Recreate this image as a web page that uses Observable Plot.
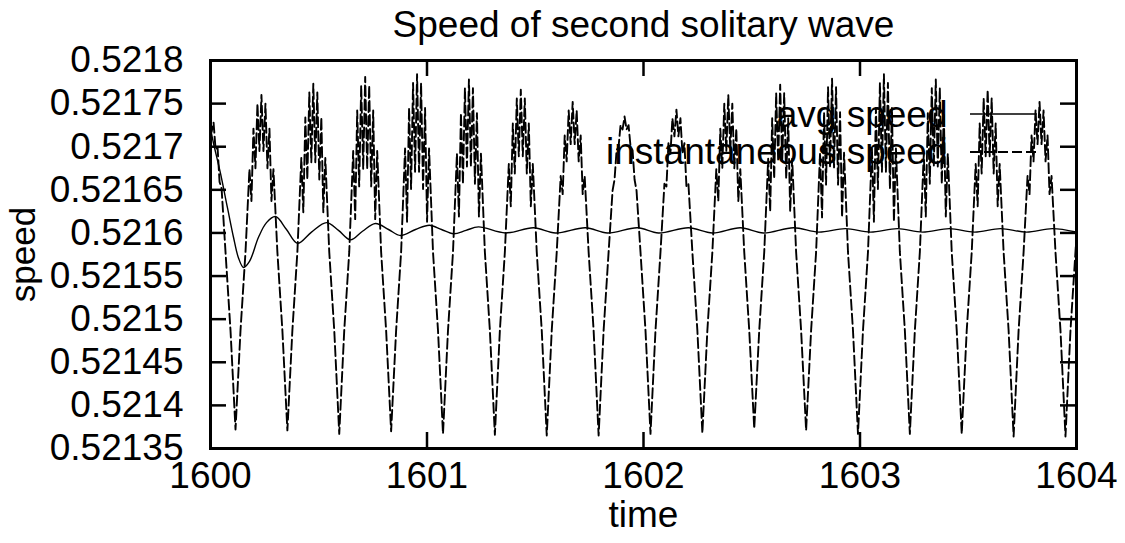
<!DOCTYPE html>
<html><head><meta charset="utf-8">
<script src="https://cdn.jsdelivr.net/npm/d3@7"></script>
<script src="https://cdn.jsdelivr.net/npm/@observablehq/plot@0.6"></script>
<style>html,body{margin:0;padding:0;background:#fff;}</style>
</head><body><div id="chart"></div>
<script>
const title = "Speed of second solitary wave";
const xLabel = "time";
const yLabel = "speed";
const seriesNames = ["avg speed", "instantaneous speed"];
const xTicks = [1600, 1601, 1602, 1603, 1604];
const xTickLabels = ["1600", "1601", "1602", "1603", "1604"];
const yTicks = [0.5218, 0.52175, 0.5217, 0.52165, 0.5216, 0.52155, 0.5215, 0.52145, 0.5214, 0.52135];
const yTickLabels = ["0.5218", "0.52175", "0.5217", "0.52165", "0.5216", "0.52155", "0.5215", "0.52145", "0.5214", "0.52135"];

const avgTime = [1600.0000, 1600.0139, 1600.0462, 1600.0785, 1600.1062, 1600.1293, 1600.1524, 1600.1801, 1600.2217, 1600.2587,
  1600.3002, 1600.3510, 1600.4018, 1600.4665, 1600.5358, 1600.5912, 1600.6467, 1600.7021, 1600.7621, 1600.8222,
  1600.8776, 1600.9469, 1601.0115, 1601.0670, 1601.1224, 1601.1801, 1601.2379, 1601.3626, 1601.4919, 1601.5935,
  1601.7321, 1601.8337, 1601.9723, 1602.0693, 1602.2079, 1602.3187, 1602.4480, 1602.5543, 1602.6928, 1602.8083,
  1602.9330, 1603.0485, 1603.1732, 1603.2887, 1603.4134, 1603.5289, 1603.6490, 1603.7691, 1603.8891, 1604.0000];
const avgSpeed = [0.521721, 0.521704, 0.521669, 0.521629, 0.521595, 0.521571, 0.521560, 0.521567, 0.521595, 0.521612,
  0.521619, 0.521604, 0.521588, 0.521601, 0.521612, 0.521603, 0.521592, 0.521602, 0.521611, 0.521604,
  0.521597, 0.521604, 0.521609, 0.521604, 0.521599, 0.521603, 0.521607, 0.521600, 0.521606, 0.521600,
  0.521606, 0.521600, 0.521606, 0.521600, 0.521606, 0.521600, 0.521606, 0.521600, 0.521606, 0.521601,
  0.521605, 0.521601, 0.521605, 0.521601, 0.521605, 0.521601, 0.521605, 0.521601, 0.521605, 0.521601];

const instTime = [
  1599.9957, 1600.0049, 1600.0142, 1600.0234, 1600.0327, 1600.0419, 1600.0511, 1600.0693, 1600.0924,
  1600.1155, 1600.1386, 1600.1617, 1600.1799, 1600.1891, 1600.1984, 1600.2076, 1600.2168, 1600.2261, 1600.2353, 1600.2445, 1600.2538, 1600.2630, 1600.2723, 1600.2815, 1600.2907, 1600.3089, 1600.3320,
  1600.3551, 1600.3782, 1600.4013, 1600.4195, 1600.4287, 1600.4380, 1600.4472, 1600.4564, 1600.4657, 1600.4749, 1600.4841, 1600.4934, 1600.5026, 1600.5119, 1600.5211, 1600.5303, 1600.5485, 1600.5716,
  1600.5947, 1600.6178, 1600.6409, 1600.6591, 1600.6683, 1600.6776, 1600.6868, 1600.6960, 1600.7053, 1600.7145, 1600.7237, 1600.7330, 1600.7422, 1600.7515, 1600.7607, 1600.7699, 1600.7881, 1600.8112,
  1600.8343, 1600.8574, 1600.8805, 1600.8987, 1600.9079, 1600.9172, 1600.9264, 1600.9356, 1600.9449, 1600.9541, 1600.9633, 1600.9726, 1600.9818, 1600.9911, 1601.0003, 1601.0095, 1601.0277, 1601.0508,
  1601.0739, 1601.0970, 1601.1201, 1601.1383, 1601.1475, 1601.1568, 1601.1660, 1601.1752, 1601.1845, 1601.1937, 1601.2029, 1601.2122, 1601.2214, 1601.2307, 1601.2399, 1601.2491, 1601.2673, 1601.2904,
  1601.3135, 1601.3366, 1601.3597, 1601.3779, 1601.3871, 1601.3964, 1601.4056, 1601.4148, 1601.4241, 1601.4333, 1601.4425, 1601.4518, 1601.4610, 1601.4703, 1601.4795, 1601.4887, 1601.5069, 1601.5300,
  1601.5531, 1601.5762, 1601.5993, 1601.6175, 1601.6267, 1601.6360, 1601.6452, 1601.6544, 1601.6637, 1601.6729, 1601.6821, 1601.6914, 1601.7006, 1601.7099, 1601.7191, 1601.7283, 1601.7465, 1601.7696,
  1601.7927, 1601.8158, 1601.8389, 1601.8571, 1601.8663, 1601.8756, 1601.8848, 1601.8940, 1601.9033, 1601.9125, 1601.9217, 1601.9310, 1601.9402, 1601.9495, 1601.9587, 1601.9679, 1601.9861, 1602.0092,
  1602.0323, 1602.0554, 1602.0785, 1602.0967, 1602.1059, 1602.1152, 1602.1244, 1602.1336, 1602.1429, 1602.1521, 1602.1613, 1602.1706, 1602.1798, 1602.1891, 1602.1983, 1602.2075, 1602.2257, 1602.2488,
  1602.2719, 1602.2950, 1602.3181, 1602.3363, 1602.3455, 1602.3548, 1602.3640, 1602.3732, 1602.3825, 1602.3917, 1602.4009, 1602.4102, 1602.4194, 1602.4287, 1602.4379, 1602.4471, 1602.4653, 1602.4884,
  1602.5115, 1602.5346, 1602.5577, 1602.5759, 1602.5851, 1602.5944, 1602.6036, 1602.6128, 1602.6221, 1602.6313, 1602.6405, 1602.6498, 1602.6590, 1602.6683, 1602.6775, 1602.6867, 1602.7049, 1602.7280,
  1602.7511, 1602.7742, 1602.7973, 1602.8155, 1602.8247, 1602.8340, 1602.8432, 1602.8524, 1602.8617, 1602.8709, 1602.8801, 1602.8894, 1602.8986, 1602.9079, 1602.9171, 1602.9263, 1602.9445, 1602.9676,
  1602.9907, 1603.0138, 1603.0369, 1603.0551, 1603.0643, 1603.0736, 1603.0828, 1603.0920, 1603.1013, 1603.1105, 1603.1197, 1603.1290, 1603.1382, 1603.1475, 1603.1567, 1603.1659, 1603.1841, 1603.2072,
  1603.2303, 1603.2534, 1603.2765, 1603.2947, 1603.3039, 1603.3132, 1603.3224, 1603.3316, 1603.3409, 1603.3501, 1603.3593, 1603.3686, 1603.3778, 1603.3871, 1603.3963, 1603.4055, 1603.4237, 1603.4468,
  1603.4699, 1603.4930, 1603.5161, 1603.5343, 1603.5435, 1603.5528, 1603.5620, 1603.5712, 1603.5805, 1603.5897, 1603.5989, 1603.6082, 1603.6174, 1603.6267, 1603.6359, 1603.6451, 1603.6633, 1603.6864,
  1603.7095, 1603.7326, 1603.7557, 1603.7739, 1603.7831, 1603.7924, 1603.8016, 1603.8108, 1603.8201, 1603.8293, 1603.8385, 1603.8478, 1603.8570, 1603.8663, 1603.8755, 1603.8847, 1603.9029, 1603.9260,
  1603.9491, 1603.9722, 1603.9953, 1604.0135];
const instSpeed = [
  0.521738, 0.521717, 0.521728, 0.521697, 0.521699, 0.521659, 0.521652, 0.521578, 0.521487,
  0.521372, 0.521487, 0.521578, 0.521674, 0.521637, 0.521721, 0.521675, 0.521750, 0.521695, 0.521760, 0.521695, 0.521750, 0.521675, 0.521721, 0.521637, 0.521674, 0.521578, 0.521487,
  0.521371, 0.521487, 0.521578, 0.521687, 0.521624, 0.521734, 0.521662, 0.521763, 0.521682, 0.521773, 0.521682, 0.521763, 0.521662, 0.521734, 0.521624, 0.521687, 0.521578, 0.521487,
  0.521367, 0.521487, 0.521578, 0.521695, 0.521616, 0.521742, 0.521654, 0.521771, 0.521674, 0.521781, 0.521674, 0.521771, 0.521654, 0.521742, 0.521616, 0.521695, 0.521578, 0.521487,
  0.521370, 0.521487, 0.521578, 0.521698, 0.521613, 0.521745, 0.521651, 0.521774, 0.521671, 0.521784, 0.521671, 0.521774, 0.521651, 0.521745, 0.521613, 0.521698, 0.521578, 0.521487,
  0.521367, 0.521487, 0.521578, 0.521692, 0.521619, 0.521739, 0.521657, 0.521768, 0.521677, 0.521778, 0.521677, 0.521768, 0.521657, 0.521739, 0.521619, 0.521692, 0.521578, 0.521487,
  0.521366, 0.521487, 0.521578, 0.521680, 0.521631, 0.521727, 0.521669, 0.521756, 0.521689, 0.521766, 0.521689, 0.521756, 0.521669, 0.521727, 0.521631, 0.521680, 0.521578, 0.521487,
  0.521365, 0.521487, 0.521578, 0.521666, 0.521645, 0.521713, 0.521683, 0.521742, 0.521703, 0.521752, 0.521703, 0.521742, 0.521683, 0.521713, 0.521645, 0.521666, 0.521578, 0.521487,
  0.521365, 0.521487, 0.521578, 0.521649, 0.521662, 0.521696, 0.521700, 0.521725, 0.521720, 0.521735, 0.521720, 0.521725, 0.521700, 0.521696, 0.521662, 0.521649, 0.521578, 0.521487,
  0.521367, 0.521487, 0.521578, 0.521657, 0.521654, 0.521704, 0.521692, 0.521733, 0.521712, 0.521743, 0.521712, 0.521733, 0.521692, 0.521704, 0.521654, 0.521657, 0.521578, 0.521487,
  0.521368, 0.521487, 0.521578, 0.521674, 0.521637, 0.521721, 0.521675, 0.521750, 0.521695, 0.521760, 0.521695, 0.521750, 0.521675, 0.521721, 0.521637, 0.521674, 0.521578, 0.521487,
  0.521373, 0.521487, 0.521578, 0.521686, 0.521625, 0.521733, 0.521663, 0.521762, 0.521683, 0.521772, 0.521683, 0.521762, 0.521663, 0.521733, 0.521625, 0.521686, 0.521578, 0.521487,
  0.521371, 0.521487, 0.521578, 0.521693, 0.521618, 0.521740, 0.521656, 0.521769, 0.521676, 0.521779, 0.521676, 0.521769, 0.521656, 0.521740, 0.521618, 0.521693, 0.521578, 0.521487,
  0.521367, 0.521487, 0.521578, 0.521698, 0.521613, 0.521745, 0.521651, 0.521774, 0.521671, 0.521784, 0.521671, 0.521774, 0.521651, 0.521745, 0.521613, 0.521698, 0.521578, 0.521487,
  0.521367, 0.521487, 0.521578, 0.521692, 0.521619, 0.521739, 0.521657, 0.521768, 0.521677, 0.521778, 0.521677, 0.521768, 0.521657, 0.521739, 0.521619, 0.521692, 0.521578, 0.521487,
  0.521367, 0.521487, 0.521578, 0.521680, 0.521631, 0.521727, 0.521669, 0.521756, 0.521689, 0.521766, 0.521689, 0.521756, 0.521669, 0.521727, 0.521631, 0.521680, 0.521578, 0.521487,
  0.521364, 0.521487, 0.521578, 0.521666, 0.521645, 0.521713, 0.521683, 0.521742, 0.521703, 0.521752, 0.521703, 0.521742, 0.521683, 0.521713, 0.521645, 0.521666, 0.521578, 0.521487,
  0.521364, 0.521487, 0.521578, 0.521651];

const avg = avgTime.map((t, i) => ({t, v: avgSpeed[i]}));
const n = Math.min(instTime.length, instSpeed.length);
const inst = instTime.slice(0, n).map((t, i) => ({t, v: instSpeed[i]}));

const W = 1125, H = 543, ML = 210, MR = 49, MT = 60, MB = 95;
const PW = W - ML - MR, PH = H - MT - MB;
const FONT = "'Liberation Sans', Arial, Helvetica, sans-serif";
const FS = 37, TICK = 16, DASH = "10,4";
const txt = {fontSize: FS, fill: "black", fontFamily: FONT};

const chart = Plot.plot({
  width: W, height: H,
  marginLeft: ML, marginRight: MR, marginTop: MT, marginBottom: MB,
  style: {fontFamily: FONT, background: "white", color: "black", overflow: "visible"},
  x: {domain: [1600, 1604], axis: null},
  y: {domain: [0.52135, 0.5218], axis: null},
  marks: [
    Plot.line(avg, {x: "t", y: "v", stroke: "black", strokeWidth: 1.4, curve: "catmull-rom", clip: true}),
    Plot.line(inst, {x: "t", y: "v", stroke: "black", strokeWidth: 1.9, strokeDasharray: DASH, clip: true}),
    Plot.ruleY(yTicks, {y: d => d, insetRight: PW - TICK, stroke: "black", strokeWidth: 2.5}),
    Plot.ruleY(yTicks, {y: d => d, insetLeft: PW - TICK, stroke: "black", strokeWidth: 2.5}),
    Plot.ruleX(xTicks, {x: d => d, insetTop: PH - TICK, stroke: "black", strokeWidth: 2.5}),
    Plot.ruleX(xTicks, {x: d => d, insetBottom: PH - TICK, stroke: "black", strokeWidth: 2.5}),
    Plot.frame({stroke: "black", strokeWidth: 3}),
    Plot.text(yTicks, {y: d => d, text: (d, i) => yTickLabels[i], frameAnchor: "left", dx: -27, textAnchor: "end", lineAnchor: "middle", ...txt}),
    Plot.text(xTicks, {x: d => d, text: (d, i) => xTickLabels[i], frameAnchor: "bottom", dy: 28, textAnchor: "middle", lineAnchor: "middle", ...txt}),
    Plot.text([title], {text: d => d, frameAnchor: "top", dy: -35, textAnchor: "middle", lineAnchor: "middle", ...txt}),
    Plot.text([xLabel], {text: d => d, frameAnchor: "bottom", dy: 67, textAnchor: "middle", lineAnchor: "middle", ...txt}),
    Plot.text([yLabel], {text: d => d, frameAnchor: "left", dx: -187, rotate: -90, textAnchor: "middle", lineAnchor: "middle", ...txt, fontSize: 35}),
    Plot.text([seriesNames[0]], {text: d => d, frameAnchor: "top-right", dx: -129, dy: 55, textAnchor: "end", lineAnchor: "middle", ...txt}),
    Plot.text([seriesNames[1]], {text: d => d, frameAnchor: "top-right", dx: -129, dy: 92, textAnchor: "end", lineAnchor: "middle", ...txt})
  ]
});

// legend sample lines
const svg = d3.select(chart);
const xr = W - MR;
svg.append("line").attr("x1", xr - 106).attr("x2", xr - 39).attr("y1", MT + 54).attr("y2", MT + 54)
  .attr("stroke", "black").attr("stroke-width", 1.4);
svg.append("line").attr("x1", xr - 106).attr("x2", xr - 39).attr("y1", MT + 92).attr("y2", MT + 92)
  .attr("stroke", "black").attr("stroke-width", 1.9).attr("stroke-dasharray", DASH);

document.getElementById("chart").appendChild(chart);
</script>
</body></html>
